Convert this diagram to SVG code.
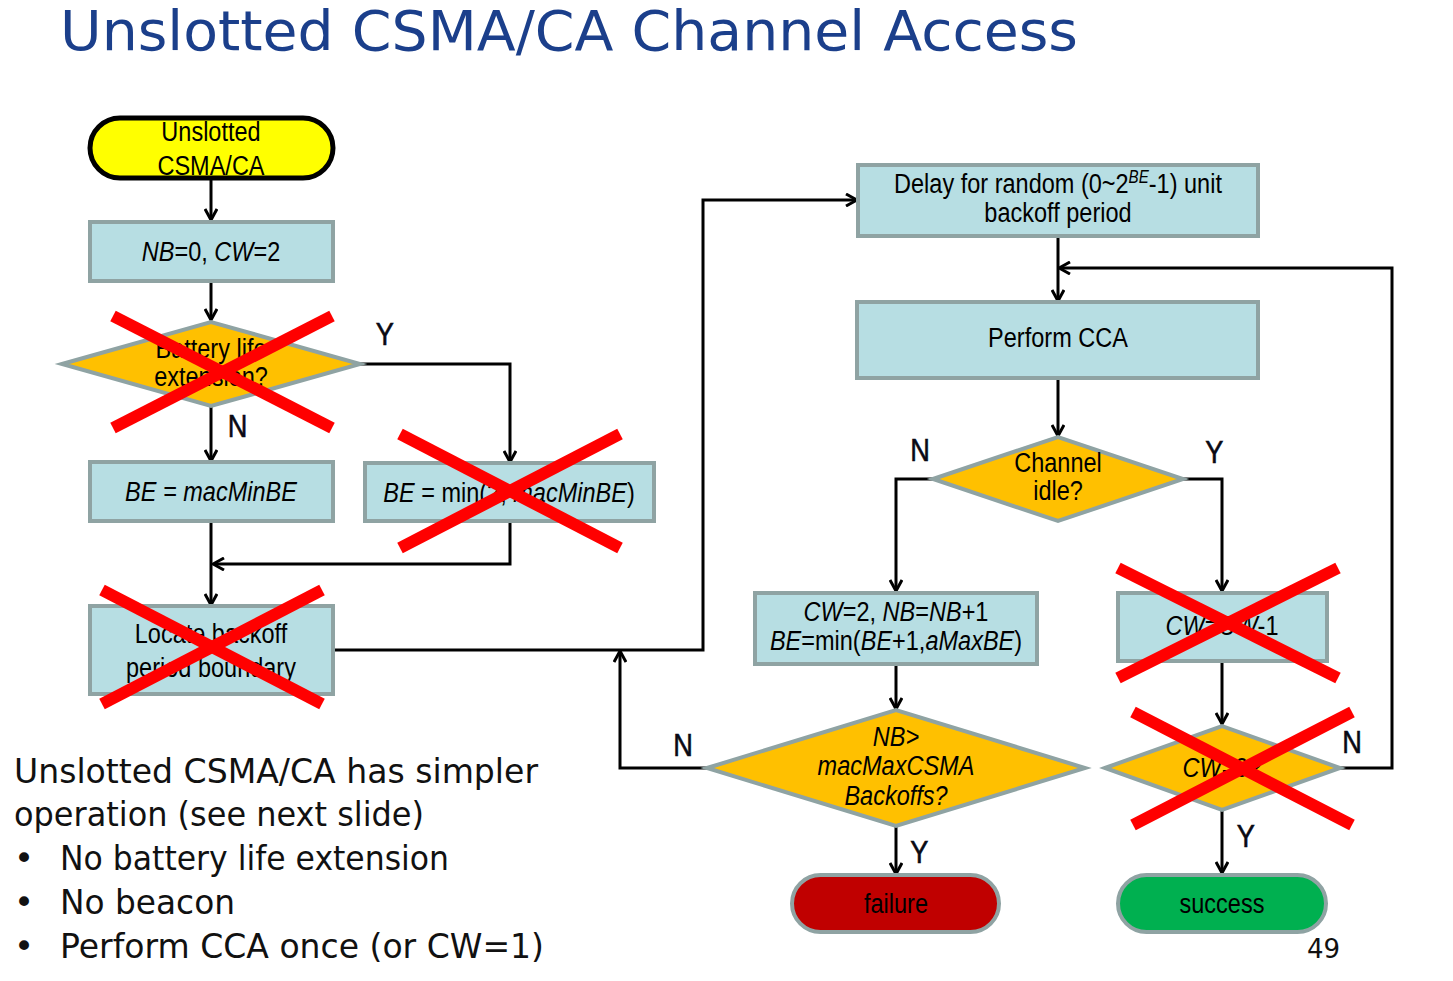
<svg xmlns="http://www.w3.org/2000/svg" width="1453" height="981" viewBox="0 0 1453 981">
<style>
.box{fill:#B7DEE3;stroke:#8FA3A3;stroke-width:4}
.dia{fill:#FFC000;stroke:#8FA3A3;stroke-width:4}
.t{font-family:"Liberation Sans Narrow","Liberation Sans",Arial,sans-serif;font-size:28px;fill:#000;text-anchor:middle}
.i{font-style:italic}
.yn{font-family:"Liberation Sans Narrow","Liberation Sans",Arial,sans-serif;font-size:32px;fill:#0a0a14;stroke:#0a0a14;stroke-width:0.6}
.c{fill:none;stroke:#000;stroke-width:3}
.x{stroke:#FF0000;stroke-width:12}
.body{font-family:"DejaVu Sans",Verdana,sans-serif;font-size:34px;fill:#111}
</style>
<defs>
<marker id="a" markerWidth="14" markerHeight="14" refX="11" refY="7" orient="auto" markerUnits="userSpaceOnUse">
<path d="M1,1 L12,7 L1,13" fill="none" stroke="#000" stroke-width="3"/>
</marker>
</defs>
<rect width="1453" height="981" fill="#fff"/>
<text x="60" y="50" font-family="'DejaVu Sans',Verdana,sans-serif" font-size="55" fill="#1B3F8B" textLength="1018" lengthAdjust="spacingAndGlyphs">Unslotted CSMA/CA Channel Access</text>

<g id="connectors">
<line class="c" x1="211" y1="178" x2="211" y2="219" marker-end="url(#a)"/>
<line class="c" x1="211" y1="281" x2="211" y2="319" marker-end="url(#a)"/>
<polyline class="c" points="360,364 510,364 510,461" marker-end="url(#a)"/>
<line class="c" x1="211" y1="406" x2="211" y2="460" marker-end="url(#a)"/>
<line class="c" x1="211" y1="521" x2="211" y2="604" marker-end="url(#a)"/>
<polyline class="c" points="510,521 510,564 214,564" marker-end="url(#a)"/>
<polyline class="c" points="333,650 703,650 703,200 856,200" marker-end="url(#a)"/>
<line class="c" x1="1058" y1="236" x2="1058" y2="300" marker-end="url(#a)"/>
<polyline class="c" points="1340,768 1392,768 1392,268 1060,268" marker-end="url(#a)"/>
<line class="c" x1="1058" y1="378" x2="1058" y2="435" marker-end="url(#a)"/>
<polyline class="c" points="933,479 896,479 896,590" marker-end="url(#a)"/>
<polyline class="c" points="1183,479 1222,479 1222,590" marker-end="url(#a)"/>
<line class="c" x1="896" y1="664" x2="896" y2="708" marker-end="url(#a)"/>
<polyline class="c" points="707,768 620,768 620,652" marker-end="url(#a)"/>
<line class="c" x1="896" y1="826" x2="896" y2="873" marker-end="url(#a)"/>
<line class="c" x1="1222" y1="661" x2="1222" y2="723" marker-end="url(#a)"/>
<line class="c" x1="1222" y1="810" x2="1222" y2="872" marker-end="url(#a)"/>
<g transform="scale(0.85 1)">
<text class="yn" x="442" y="345">Y</text>
<text class="yn" x="268" y="437">N</text>
<text class="yn" x="1071" y="461">N</text>
<text class="yn" x="1418" y="463">Y</text>
<text class="yn" x="792" y="756">N</text>
<text class="yn" x="1071" y="863">Y</text>
<text class="yn" x="1579" y="753">N</text>
<text class="yn" x="1455" y="847">Y</text>
</g>
</g>

<g id="start">
<rect x="90" y="118" width="243" height="60" rx="30" fill="#FFFF00" stroke="#000" stroke-width="5"/>
<g transform="translate(33.76 0) scale(0.84 1)">
<text class="t" x="211" y="141">Unslotted</text>
<text class="t" x="211" y="175">CSMA/CA</text>
</g>
</g>
<g id="init">
<rect class="box" x="90" y="222" width="243" height="59"/>
<g transform="translate(33.76 0) scale(0.84 1)">
<text class="t" x="211" y="261"><tspan class="i">NB</tspan>=0, <tspan class="i">CW</tspan>=2</text>
</g>
</g>
<g id="battery">
<polygon class="dia" points="62,364 211,322 360,364 211,406"/>
<g transform="translate(33.76 0) scale(0.84 1)">
<text class="t" x="211" y="358">Battery life</text>
<text class="t" x="211" y="386">extension?</text>
</g>
<line class="x" x1="113" y1="316" x2="332" y2="428"/>
<line class="x" x1="113" y1="428" x2="332" y2="316"/>
</g>
<g id="be1">
<rect class="box" x="90" y="462" width="243" height="59"/>
<g transform="translate(33.76 0) scale(0.84 1)">
<text class="t i" x="211" y="501">BE = macMinBE</text>
</g>
</g>
<g id="be2">
<rect class="box" x="365" y="463" width="289" height="58"/>
<g transform="translate(81.44 0) scale(0.84 1)">
<text class="t" x="509" y="502"><tspan class="i">BE</tspan> = min(2, <tspan class="i">macMinBE</tspan>)</text>
</g>
<line class="x" x1="400" y1="434" x2="620" y2="548"/>
<line class="x" x1="400" y1="548" x2="620" y2="434"/>
</g>
<g id="locate">
<rect class="box" x="90" y="606" width="243" height="88"/>
<g transform="translate(33.76 0) scale(0.84 1)">
<text class="t" x="211" y="643">Locate backoff</text>
<text class="t" x="211" y="677">period boundary</text>
</g>
<line class="x" x1="102" y1="590" x2="322" y2="704"/>
<line class="x" x1="102" y1="704" x2="322" y2="590"/>
</g>
<g id="delay">
<rect class="box" x="858" y="165" width="400" height="71"/>
<g transform="translate(169.28 0) scale(0.84 1)">
<text class="t" x="1058" y="193">Delay for random (0~2<tspan font-size="18" dy="-10" class="i">BE</tspan><tspan dy="10">-1) unit</tspan></text>
<text class="t" x="1058" y="222">backoff period</text>
</g>
</g>
<g id="cca">
<rect class="box" x="857" y="302" width="401" height="76"/>
<g transform="translate(169.28 0) scale(0.84 1)">
<text class="t" x="1058" y="347">Perform CCA</text>
</g>
</g>
<g id="idle">
<polygon class="dia" points="933,479 1058,437 1183,479 1058,521"/>
<g transform="translate(169.28 0) scale(0.84 1)">
<text class="t" x="1058" y="472" font-size="26">Channel</text>
<text class="t" x="1058" y="500" font-size="26">idle?</text>
</g>
</g>
<g id="update">
<rect class="box" x="755" y="593" width="282" height="71"/>
<g transform="translate(143.36 0) scale(0.84 1)">
<text class="t" x="896" y="621"><tspan class="i">CW</tspan>=2, <tspan class="i">NB</tspan>=<tspan class="i">NB</tspan>+1</text>
<text class="t" x="896" y="650"><tspan class="i">BE</tspan>=min(<tspan class="i">BE</tspan>+1,<tspan class="i">aMaxBE</tspan>)</text>
</g>
</g>
<g id="nbmax">
<polygon class="dia" points="707,768 896,710 1085,768 896,826"/>
<g transform="translate(143.36 0) scale(0.84 1)">
<text class="t i" x="896" y="746">NB&gt;</text>
<text class="t i" x="896" y="775">macMaxCSMA</text>
<text class="t i" x="896" y="805">Backoffs?</text>
</g>
</g>
<g id="failure">
<rect x="792" y="875" width="207" height="57" rx="28.5" fill="#C00000" stroke="#8FA3A3" stroke-width="4"/>
<g transform="translate(143.36 0) scale(0.84 1)">
<text class="t" x="896" y="913">failure</text>
</g>
</g>
<g id="cwdec">
<rect class="box" x="1118" y="593" width="209" height="68"/>
<g transform="translate(195.52 0) scale(0.84 1)">
<text class="t" x="1222" y="635"><tspan class="i">CW</tspan>=<tspan class="i">CW</tspan>-1</text>
</g>
<line class="x" x1="1118" y1="568" x2="1338" y2="678"/>
<line class="x" x1="1118" y1="678" x2="1338" y2="568"/>
</g>
<g id="cwzero">
<polygon class="dia" points="1105,768 1222,726 1340,768 1222,810"/>
<g transform="translate(195.52 0) scale(0.84 1)">
<text class="t" x="1222" y="777"><tspan class="i">CW</tspan>=0?</text>
</g>
<line class="x" x1="1133" y1="712" x2="1352" y2="825"/>
<line class="x" x1="1133" y1="825" x2="1352" y2="712"/>
</g>
<g id="success">
<rect x="1118" y="875" width="208" height="57" rx="28.5" fill="#00B050" stroke="#8FA3A3" stroke-width="4"/>
<g transform="translate(195.52 0) scale(0.84 1)">
<text class="t" x="1222" y="913">success</text>
</g>
</g>

<g id="notes">
<text class="body" x="14" y="783" textLength="524" lengthAdjust="spacingAndGlyphs">Unslotted CSMA/CA has simpler</text>
<text class="body" x="14" y="826" textLength="410" lengthAdjust="spacingAndGlyphs">operation (see next slide)</text>
<text class="body" x="14" y="870">•</text>
<text class="body" x="60" y="870" textLength="389" lengthAdjust="spacingAndGlyphs">No battery life extension</text>
<text class="body" x="14" y="914">•</text>
<text class="body" x="60" y="914" textLength="175" lengthAdjust="spacingAndGlyphs">No beacon</text>
<text class="body" x="14" y="958">•</text>
<text class="body" x="60" y="958" textLength="484" lengthAdjust="spacingAndGlyphs">Perform CCA once (or CW=1)</text>
<text x="1340" y="958" font-family="'DejaVu Sans',Verdana,sans-serif" font-size="26" fill="#111" text-anchor="end">49</text>
</g>
</svg>
